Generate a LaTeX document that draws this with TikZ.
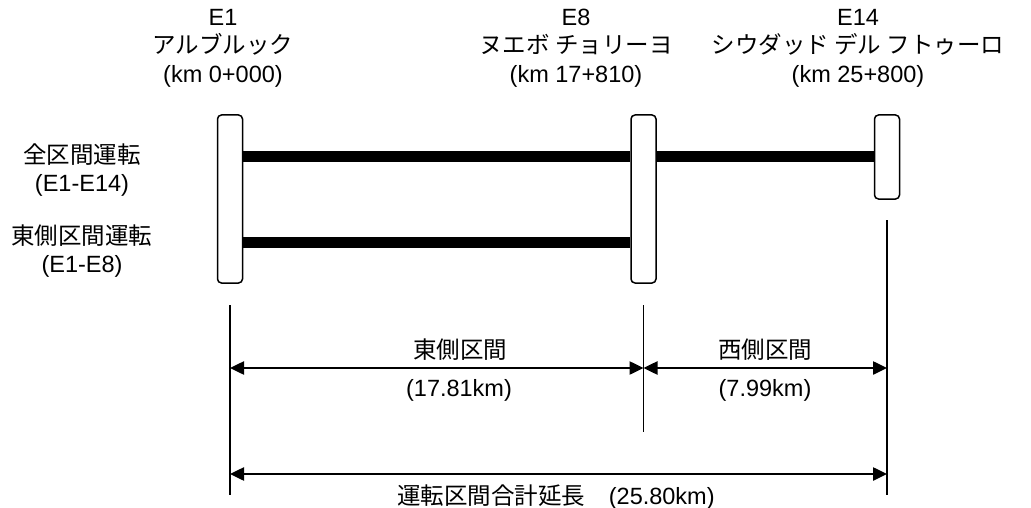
\documentclass[tikz,border=0pt]{standalone}
\usepackage{fontspec}
\setmainfont{Liberation Sans}
\newfontfamily\jp{Noto Sans CJK JP}
\usetikzlibrary{arrows.meta}
\tikzset{
  station/.style={draw, line width=1.5pt, rounded corners=4pt, fill=white, minimum width=25pt, inner sep=0pt},
  trunk/.style={line width=11pt},
  ext/.style={line width=1.5pt},
  dim/.style={line width=2.5pt, {Triangle[length=14pt,width=13pt]}-{Triangle[length=14pt,width=13pt]}},
  lbl/.style={align=center, inner sep=0pt, font=\fontsize{23.5}{28.5}\selectfont},
}
\begin{document}
\begin{tikzpicture}[x=1pt,y=-1pt]
\useasboundingbox (0,0) rectangle (1031,508);
% stations
\coordinate (r2) at (0,242);
\node[station, minimum height=168pt] (e1) at (230,199) {};
\node[station, minimum height=168pt] (e8) at (643.5,199) {};
\node[station, minimum height=84pt] (e14) at (887,157) {};
% route lines
\draw[trunk] (e1.east |- e14.west) -- (e8.west |- e14.west);
\draw[trunk] (e8.east |- e14.west) -- (e14.west);
\draw[trunk] (e1.east |- r2) -- (e8.west |- r2);
% extension lines
\coordinate (d1t) at (230,305); \coordinate (d1b) at (230,495);
\coordinate (d8t) at (643.5,305); \coordinate (d8b) at (643.5,432);
\coordinate (d14t) at (887,220); \coordinate (d14b) at (887,495);
\draw[ext] (d1t) -- (d1b);
\draw[ext] (d8t) -- (d8b);
\draw[ext] (d14t) -- (d14b);
% dimension arrows
\coordinate (ya) at (0,368); \coordinate (yb) at (0,474);
\draw[dim] (d1t |- ya) -- (d8t |- ya);
\draw[dim] (d8t |- ya) -- (d14t |- ya);
\draw[dim] (d1t |- yb) -- (d14t |- yb);
% station labels
\node[lbl] (t1) at (223,48) {E1\\{\jp アルブルック}\\(km 0+000)};
\node[lbl] (t8) at (576,48) {E8\\{\jp ヌエボ チョリーヨ}\\(km 17+810)};
\node[lbl] (t14) at (858,48) {E14\\{\jp シウダッド デル フトゥーロ}\\(km 25+800)};
% service labels
\node[lbl] (s1) at (82,170) {{\jp 全区間運転}\\(E1-E14)};
\node[lbl] (s2) at (82,251) {{\jp 東側区間運転}\\(E1-E8)};
% dimension labels
\node[lbl] (l1) at (460,350) {\jp 東側区間};
\node[lbl] (l1b) at (459,390) {(17.81km)};
\node[lbl] (l2) at (765,350) {\jp 西側区間};
\node[lbl] (l2b) at (765,390) {(7.99km)};
\node[lbl] (l3) at (556,497) {{\jp 運転区間合計延長　}(25.80km)};
\end{tikzpicture}
\end{document}
